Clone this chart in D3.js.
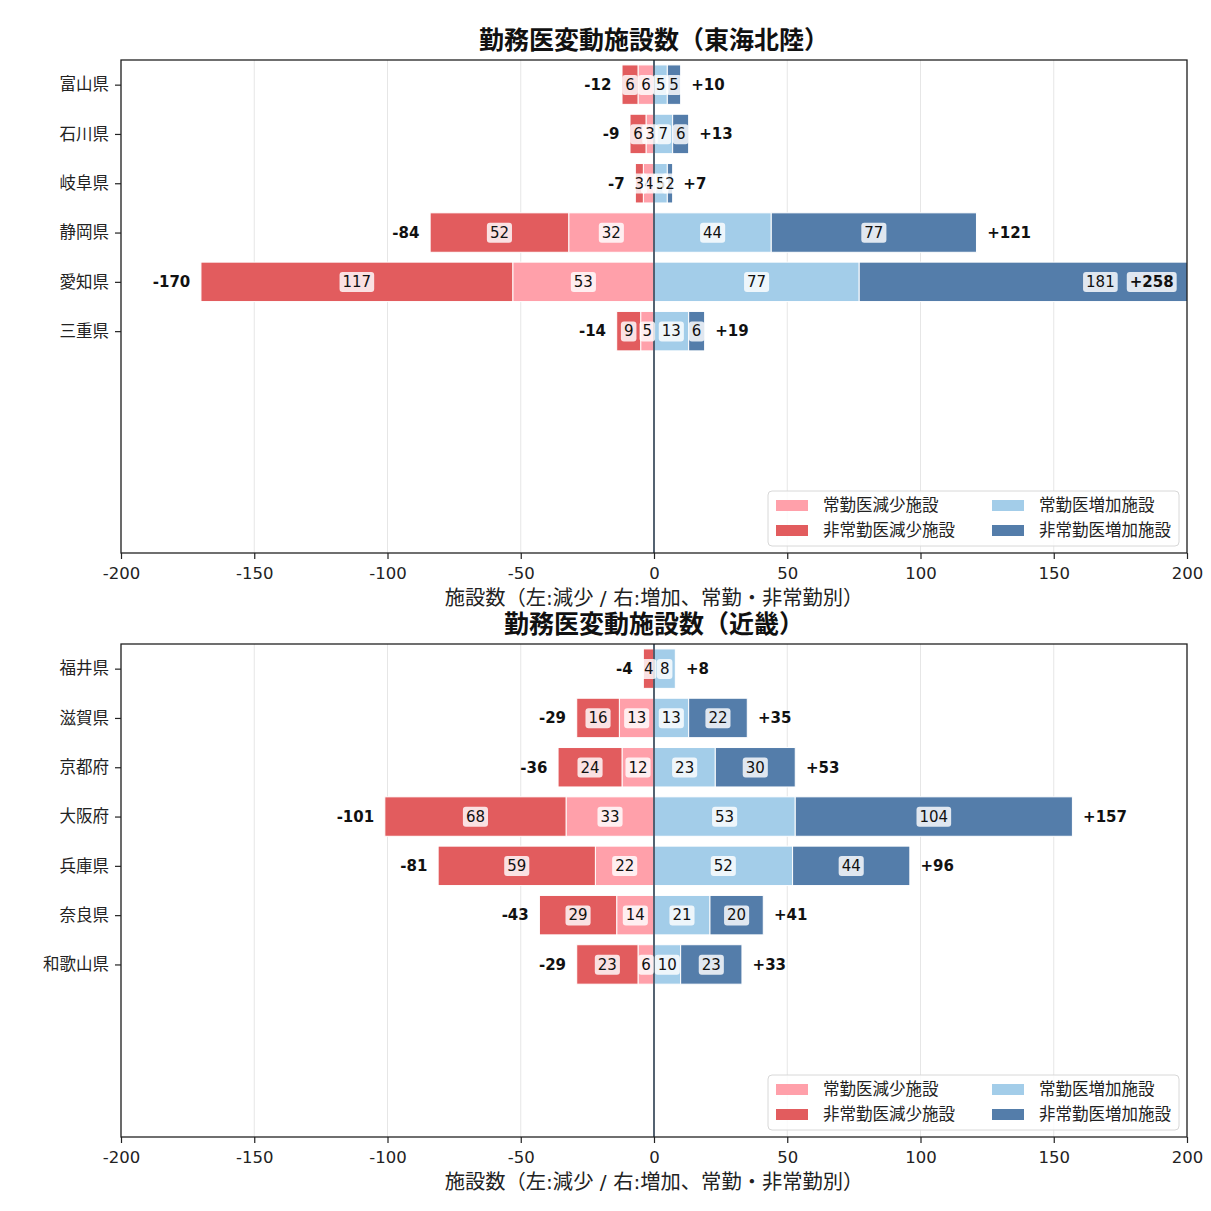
<!DOCTYPE html>
<html>
<head>
<meta charset="utf-8">
<script src="https://cdn.jsdelivr.net/npm/d3@7"></script>
<style>
  body { margin: 0; background: #fff; }
  svg text { font-family: "DejaVu Sans", "Noto Sans CJK JP", sans-serif; }
</style>
</head>
<body>
<div id="chart"></div>
<script>
// 東海北陸
const tokaiPrefs = ["富山県", "石川県", "岐阜県", "静岡県", "愛知県", "三重県"];
const tokaiJokinDec = [6, 3, 4, 32, 53, 5];
const tokaiHijokinDec = [6, 6, 3, 52, 117, 9];
const tokaiJokinInc = [5, 7, 5, 44, 77, 13];
const tokaiHijokinInc = [5, 6, 2, 77, 181, 6];

// 近畿
const kinkiPrefs = ["福井県", "滋賀県", "京都府", "大阪府", "兵庫県", "奈良県", "和歌山県"];
const kinkiJokinDec = [0, 13, 12, 33, 22, 14, 6];
const kinkiHijokinDec = [4, 16, 24, 68, 59, 29, 23];
const kinkiJokinInc = [8, 13, 23, 53, 52, 21, 10];
const kinkiHijokinInc = [0, 22, 30, 104, 44, 20, 23];

const xTicks = [-200, -150, -100, -50, 0, 50, 100, 150, 200];
const legendLabels = ["常勤医減少施設", "非常勤医減少施設", "常勤医増加施設", "非常勤医増加施設"];

const colors = {
  jokinDec: "#ff9da7",
  hijokinDec: "#e15759",
  jokinInc: "#a0cbe8",
  hijokinInc: "#4e79a7"
};
const legendColors = [colors.jokinDec, colors.hijokinDec, colors.jokinInc, colors.hijokinInc];

const W = 1211, H = 1211;
const svg = d3.select("#chart").append("svg").attr("width", W).attr("height", H);

function drawPanel(title, prefs, jDec, hDec, jInc, hInc, top) {
  const left = 121, right = 1187, bottom = top + 493;
  const x = d3.scaleLinear().domain([-200, 200]).range([left, right]);
  const y = d3.scaleLinear().domain([-0.5, 9.5]).range([top, bottom]);
  const g = svg.append("g");
  const clipId = "clip" + top;
  g.append("clipPath").attr("id", clipId).append("rect")
    .attr("x", left).attr("y", top).attr("width", right - left).attr("height", bottom - top);

  // grid
  g.selectAll(".grid").data(xTicks).enter().append("line")
    .attr("x1", d => x(d)).attr("x2", d => x(d))
    .attr("y1", top).attr("y2", bottom)
    .attr("stroke", "#e6e6e6").attr("stroke-width", 1);

  const rows = prefs.map((p, i) => ({
    i, p, jd: jDec[i], hd: hDec[i], ji: jInc[i], hi: hInc[i],
    dec: jDec[i] + hDec[i], inc: jInc[i] + hInc[i]
  }));
  const segs = [];
  rows.forEach(r => {
    segs.push({ i: r.i, x0: -r.jd, x1: 0, v: r.jd, c: colors.jokinDec });
    segs.push({ i: r.i, x0: -r.dec, x1: -r.jd, v: r.hd, c: colors.hijokinDec });
    segs.push({ i: r.i, x0: 0, x1: r.ji, v: r.ji, c: colors.jokinInc });
    segs.push({ i: r.i, x0: r.ji, x1: r.inc, v: r.hi, c: colors.hijokinInc });
  });
  const bh = y(0.4) - y(-0.4);
  const barG = g.append("g").attr("clip-path", `url(#${clipId})`);
  barG.selectAll("rect").data(segs.filter(s => s.v > 0)).enter().append("rect")
    .attr("x", d => x(d.x0)).attr("width", d => x(d.x1) - x(d.x0))
    .attr("y", d => y(d.i) - bh / 2).attr("height", bh)
    .attr("fill", d => d.c).attr("fill-opacity", 0.97)
    .attr("stroke", "#fff").attr("stroke-width", 1);

  // zero line
  g.append("line").attr("x1", x(0)).attr("x2", x(0)).attr("y1", top).attr("y2", bottom)
    .attr("stroke", "#2c3e50").attr("stroke-width", 1.6);

  // segment labels
  function boxedText(parent, tx, ty, txt, bold, anchor) {
    const t = parent.append("g");
    const te = t.append("text").attr("x", tx).attr("y", ty).attr("dy", "0.35em")
      .attr("text-anchor", anchor || "middle").attr("font-size", 15)
      .attr("font-weight", bold ? "bold" : "normal").attr("fill", "#111").text(txt);
    const bb = te.node().getBBox();
    t.insert("rect", "text").attr("x", bb.x - 3).attr("y", bb.y - 1)
      .attr("width", bb.width + 6).attr("height", bb.height + 2)
      .attr("rx", 3).attr("fill", "#fff").attr("fill-opacity", 0.82);
  }
  const labG = g.append("g");
  segs.filter(s => s.v > 0).forEach(s => {
    boxedText(labG, x((s.x0 + s.x1) / 2), y(s.i), s.v, false);
  });

  // totals
  rows.forEach(r => {
    labG.append("text").attr("x", x(-r.dec - 4)).attr("y", y(r.i)).attr("dy", "0.35em")
      .attr("text-anchor", "end").attr("font-size", 15).attr("font-weight", "bold")
      .attr("fill", "#111").text("-" + r.dec);
    if (r.inc + 4 > 200) {
      boxedText(labG, x(195), y(r.i), "+" + r.inc, true, "end");
    } else {
      labG.append("text").attr("x", x(r.inc + 4)).attr("y", y(r.i)).attr("dy", "0.35em")
        .attr("text-anchor", "start").attr("font-size", 15).attr("font-weight", "bold")
        .attr("fill", "#111").text("+" + r.inc);
    }
  });

  // frame
  g.append("rect").attr("x", left).attr("y", top).attr("width", right - left).attr("height", bottom - top)
    .attr("fill", "none").attr("stroke", "#222").attr("stroke-width", 1.3);

  // axes
  const xAxis = g.append("g").attr("transform", `translate(0,${bottom})`)
    .call(d3.axisBottom(x).tickValues(xTicks).tickSize(6).tickPadding(8).tickFormat(d => d));
  xAxis.select(".domain").remove();
  xAxis.selectAll("text").attr("font-size", 16.5).attr("fill", "#222")
    .attr("font-family", "DejaVu Sans, sans-serif");
  xAxis.selectAll("line").attr("stroke", "#222").attr("stroke-width", 1.2);

  const yAxis = g.append("g").attr("transform", `translate(${left},0)`)
    .call(d3.axisLeft(d3.scalePoint().domain(prefs).range([y(0), y(prefs.length - 1)]))
      .tickSize(6).tickPadding(6));
  yAxis.select(".domain").remove();
  yAxis.selectAll("text").attr("font-size", 16.5).attr("fill", "#222")
    .attr("font-family", "Noto Sans CJK JP, sans-serif");
  yAxis.selectAll("line").attr("stroke", "#222").attr("stroke-width", 1.2);

  // title & x label
  g.append("text").attr("x", (left + right) / 2).attr("y", top - 11)
    .attr("text-anchor", "middle").attr("font-size", 25).attr("font-weight", "bold")
    .attr("font-family", "Noto Sans CJK JP, sans-serif").attr("fill", "#111").text(title);
  g.append("text").attr("x", (left + right) / 2).attr("y", bottom + 52)
    .attr("text-anchor", "middle").attr("font-size", 20.3)
    .attr("font-family", "Noto Sans CJK JP, sans-serif").attr("fill", "#222")
    .text("施設数（左:減少 / 右:増加、常勤・非常勤別）");

  // legend
  const lx = 768, ly = bottom - 62, lw = 411, lh = 55;
  const lg = g.append("g");
  lg.append("rect").attr("x", lx).attr("y", ly).attr("width", lw).attr("height", lh)
    .attr("rx", 4).attr("fill", "#fff").attr("fill-opacity", 0.85)
    .attr("stroke", "#d8d8d8");
  legendLabels.forEach((lab, k) => {
    const col = Math.floor(k / 2), row = k % 2;
    const hx = lx + 8 + col * 216, hy = ly + 14 + row * 25;
    lg.append("rect").attr("x", hx).attr("y", hy - 5).attr("width", 32).attr("height", 11)
      .attr("fill", legendColors[k]).attr("fill-opacity", 0.97);
    lg.append("text").attr("x", hx + 47).attr("y", hy).attr("dy", "0.35em")
      .attr("font-size", 16.5).attr("font-family", "Noto Sans CJK JP, sans-serif")
      .attr("fill", "#222").text(lab);
  });
}

drawPanel("勤務医変動施設数（東海北陸）", tokaiPrefs, tokaiJokinDec, tokaiHijokinDec, tokaiJokinInc, tokaiHijokinInc, 60);
drawPanel("勤務医変動施設数（近畿）", kinkiPrefs, kinkiJokinDec, kinkiHijokinDec, kinkiJokinInc, kinkiHijokinInc, 644);
</script>
</body>
</html>
